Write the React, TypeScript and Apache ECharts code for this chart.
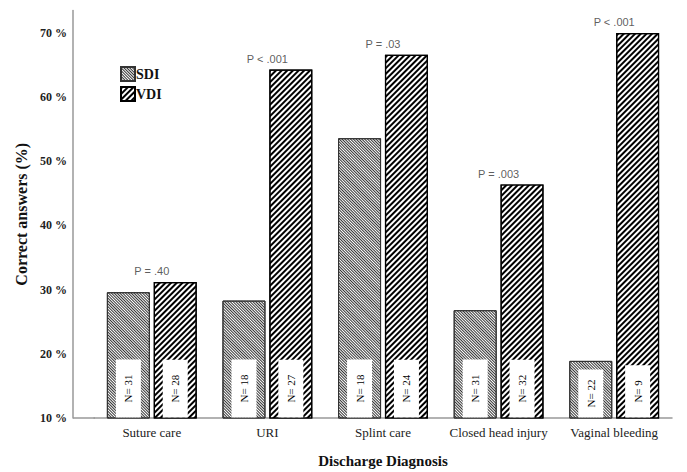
import React, { useEffect, useRef } from "react";
import * as echarts from "echarts";

const categories = ["Suture care", "URI", "Splint care", "Closed head injury", "Vaginal bleeding"];
const sdiValues = [29.6, 28.3, 53.6, 26.8, 18.9];
const vdiValues = [31.2, 64.3, 66.6, 46.4, 70.0];
const sdiN = [31, 18, 18, 31, 22];
const vdiN = [28, 27, 24, 32, 9];
const pLabels = ["P = .40", "P < .001", "P = .03", "P = .003", "P < .001"];
const yMin = 10;
const yMax = 73.5;
const yInterval = 10;

const serif = "Liberation Serif";

function nLabel(nArr: number[]) {
  return {
    show: true,
    position: "insideBottom",
    distance: 1,
    rotate: 90,
    align: "left",
    verticalAlign: "middle",
    formatter: (p: any) => "N= " + nArr[p.dataIndex],
    backgroundColor: "#fff",
    padding: [7, 15, 7, 15],
    fontFamily: serif,
    fontSize: 11,
    color: "#000",
  };
}

export default function App() {
  const ref = useRef<HTMLDivElement>(null);
  useEffect(() => {
    document.body.style.margin = "0";
    if (!ref.current) return;
    const chart = echarts.init(ref.current, null, { renderer: "svg" });
    const sdiData = sdiValues.map((v, i) =>
      i === 4 ? { value: v, label: { padding: [7, 10, 7, 10] } } : v
    );
    const option: any = {
      animation: false,
      backgroundColor: "#fff",
      grid: { left: 94, right: 15, top: 10.5, bottom: 54, outerBoundsMode: "none", containLabel: false },
      legend: {
        data: ["SDI", "VDI"],
        orient: "vertical",
        left: 115,
        top: 61,
        icon: "rect",
        itemWidth: 14,
        itemHeight: 14,
        itemGap: 4,
        textStyle: { fontFamily: serif, fontWeight: "bold", fontSize: 14, color: "#111", padding: [0, 0, 0, -4] },
      },
      xAxis: {
        type: "category",
        data: categories,
        axisLine: { lineStyle: { color: "#999", width: 1.5 } },
        axisTick: { show: false },
        axisLabel: { fontFamily: serif, fontSize: 13, color: "#222", margin: 8, interval: 0 },
        name: "Discharge Diagnosis",
        nameLocation: "middle",
        nameGap: 35,
        nameTextStyle: { fontFamily: serif, fontWeight: "bold", fontSize: 15, color: "#111" },
      },
      yAxis: {
        type: "value",
        min: yMin,
        max: yMax,
        interval: yInterval,
        offset: 21,
        splitLine: { show: false },
        axisLine: { show: true, lineStyle: { color: "#999", width: 1.5 } },
        axisTick: { show: false },
        axisLabel: {
          fontFamily: serif,
          fontWeight: "bold",
          fontSize: 12,
          color: "#222",
          margin: 6,
          showMaxLabel: false,
          formatter: (v: number) => (v % 10 === 0 ? v + " %" : ""),
        },
        name: "Correct answers (%)",
        nameLocation: "middle",
        nameGap: 44,
        nameTextStyle: { fontFamily: serif, fontWeight: "bold", fontSize: 16, color: "#111" },
      },
      graphic: [
        {
          type: "line",
          shape: { x1: 73, y1: 418, x2: 95, y2: 418 },
          style: { stroke: "#999", lineWidth: 1.5 },
          silent: true,
        },
      ],
      series: [
        {
          name: "SDI",
          type: "bar",
          barWidth: 43,
          barGap: "9%",
          data: sdiData,
          itemStyle: {
            color: "#fff",
            borderColor: "#333",
            borderWidth: 1,
            decal: {
              symbol: "rect",
              symbolSize: 1,
              color: "#333",
              dashArrayX: [1, 0],
              dashArrayY: [1, 1],
              rotation: Math.PI / 4,
            },
          },
          label: nLabel(sdiN),
        },
        {
          name: "VDI",
          type: "bar",
          barWidth: 43,
          data: vdiValues,
          itemStyle: {
            color: "#fff",
            borderColor: "#000",
            borderWidth: 1.2,
            decal: {
              symbol: "rect",
              symbolSize: 1,
              color: "#000",
              dashArrayX: [1, 0],
              dashArrayY: [2, 2],
              rotation: -Math.PI / 4,
            },
          },
          label: nLabel(vdiN),
        },
        {
          name: "P",
          type: "scatter",
          data: vdiValues,
          symbolSize: 0,
          silent: true,
          label: {
            show: true,
            position: "top",
            distance: 5,
            formatter: (p: any) => pLabels[p.dataIndex],
            fontFamily: "Liberation Sans",
            fontSize: 11,
            color: "#333",
          },
        },
      ],
    };
    chart.setOption(option);
    return () => chart.dispose();
  }, []);
  return <div ref={ref} style={{ width: 687, height: 472 }} />;
}
